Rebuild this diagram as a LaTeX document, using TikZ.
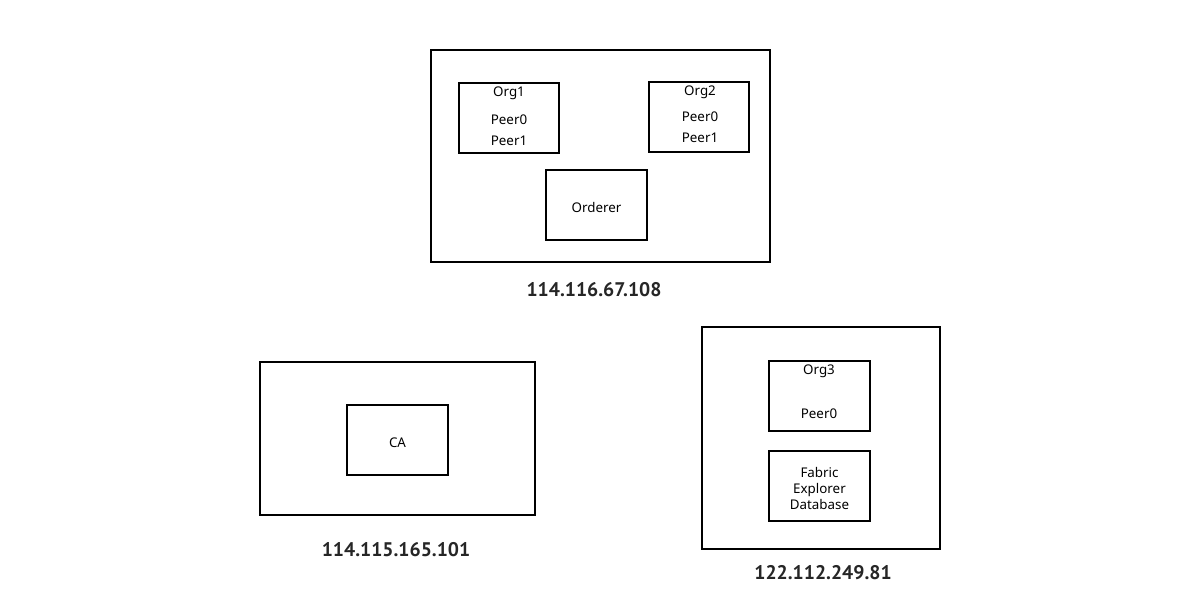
\documentclass[tikz,border=0pt]{standalone}
\usepackage{fontspec}
\setmainfont{Noto Sans}
\newfontfamily\ipfont{PT Sans}

\tikzset{
    hostbox/.style={draw, line width=1.2pt, inner sep=0pt, outer sep=0pt},
    svcbox/.style={draw, line width=1.2pt, inner sep=0pt, outer sep=0pt,
        minimum width=2.5cm, minimum height=1.75cm},
    iplabel/.style={font=\ipfont\fontsize{14}{16}\selectfont\bfseries, text=black!85},
    svctext/.style={font=\fontsize{9.5}{11}\selectfont, inner sep=0pt, yshift=-1.2pt}
}

\begin{document}
\begin{tikzpicture}[x=0.025cm, y=-0.025cm]
    \useasboundingbox (0,0) rectangle (1200,600);
    % host 1
    \node (host1) [hostbox, minimum width=8.475cm, minimum height=5.3cm] at (600.5,156) {};
    \node (org1) [svcbox] at (509,118) {};
    \node (org2) [svcbox] at (699,117) {};
    \node (orderer) [svcbox, minimum width=2.525cm] at (596.5,205) {};
    \node [svctext] at (509,92) {Org1};
    \node [svctext] at (509,118) {Peer0};
    \node [svctext] at (509,139) {Peer1};
    \node [svctext] at (700,91) {Org2};
    \node [svctext] at (700,115) {Peer0};
    \node [svctext] at (700,136) {Peer1};
    \node [svctext] at (596.5,206) {Orderer};
    \node (ip1) [iplabel] at (594,290) {114.116.67.108};
    % host 2
    \node (host2) [hostbox, minimum width=6.875cm, minimum height=3.825cm] at (397.5,438.5) {};
    \node (ca) [svcbox, minimum width=2.525cm] at (397.5,440) {};
    \node [svctext] at (397.5,441) {CA};
    \node (ip2) [iplabel] at (396,550) {114.115.165.101};
    % host 3
    \node (host3) [hostbox, minimum width=5.95cm, minimum height=5.55cm] at (821,438) {};
    \node (org3) [svcbox, minimum width=2.525cm] at (819.5,396) {};
    \node (explorer) [svcbox, minimum width=2.525cm] at (819.5,486) {};
    \node [svctext] at (819,370) {Org3};
    \node [svctext] at (819,412) {Peer0};
    \node [svctext, align=center, font=\fontsize{9.5}{11.5}\selectfont] at (819.5,487) {Fabric\\Explorer\\Database};
    \node (ip3) [iplabel] at (823,573) {122.112.249.81};
\end{tikzpicture}
\end{document}
